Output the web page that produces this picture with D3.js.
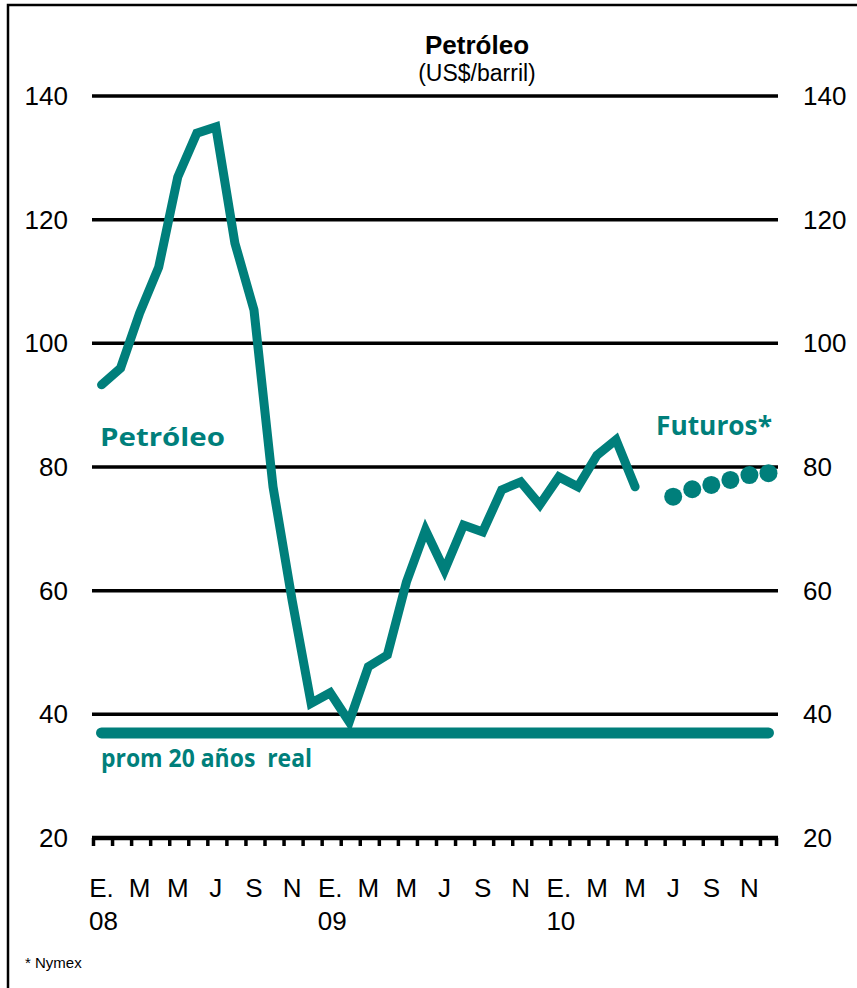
<!DOCTYPE html>
<html>
<head>
<meta charset="utf-8">
<script src="https://cdn.jsdelivr.net/npm/d3@7"></script>
<style>
  html, body { margin: 0; padding: 0; background: #fff; }
  svg { display: block; }
</style>
</head>
<body>
<svg id="chart" width="857" height="988"></svg>
<script>
// months on the category axis, Jan 2008 - Dec 2010
const months = [
  "2008-01","2008-02","2008-03","2008-04","2008-05","2008-06","2008-07","2008-08","2008-09","2008-10","2008-11","2008-12",
  "2009-01","2009-02","2009-03","2009-04","2009-05","2009-06","2009-07","2009-08","2009-09","2009-10","2009-11","2009-12",
  "2010-01","2010-02","2010-03","2010-04","2010-05","2010-06","2010-07","2010-08","2010-09","2010-10","2010-11","2010-12"
];

// monthly oil price, Jan 2008 - May 2010
const petroleo = [
  93.3, 96.0, 104.9, 112.3, 126.9, 134.0, 135.0, 116.2, 105.4, 76.8, 58.5, 41.8,
  43.5, 38.8, 47.7, 49.6, 61.4, 69.8, 63.3, 70.6, 69.5, 76.3, 77.6, 73.9,
  78.4, 76.8, 81.9, 84.4, 76.8
];

// Nymex futures, Jul - Dec 2010
const futurosMonths = ["2010-07","2010-08","2010-09","2010-10","2010-11","2010-12"];
const futuros = [75.2, 76.4, 77.1, 77.9, 78.7, 79.0];

// 20-year real average
const promedio = 37.0;

const yTicks = [20, 40, 60, 80, 100, 120, 140];
const monthLabels = ["E.", "M", "M", "J", "S", "N"];
const yearLabels = { "2008-01": "08", "2009-01": "09", "2010-01": "10" };

const teal = "#007f7b";
const svg = d3.select("#chart");

// frame
svg.append("rect")
  .attr("x", 8).attr("y", 5)
  .attr("width", 880).attr("height", 1000)
  .attr("fill", "none").attr("stroke", "#000").attr("stroke-width", 2.5);

const x = d3.scaleBand().domain(months).range([92, 778]).paddingInner(0).paddingOuter(0);
const cx = m => x(m) + x.bandwidth() / 2;
const y = d3.scaleLinear().domain([20, 140]).range([838, 96]);

// gridlines
svg.append("g")
  .selectAll("line")
  .data(yTicks.filter(d => d > 20))
  .enter().append("line")
  .attr("x1", 92).attr("x2", 778)
  .attr("y1", d => y(d)).attr("y2", d => y(d))
  .attr("stroke", "#000").attr("stroke-width", 3.5);

// left & right value labels
const labelFont = "'Liberation Sans', Arial, sans-serif";
svg.append("g")
  .selectAll("text")
  .data(yTicks)
  .enter().append("text")
  .attr("x", 68).attr("y", d => y(d) + 9)
  .attr("text-anchor", "end")
  .style("font-family", labelFont).style("font-size", "26px")
  .text(d => d);

svg.append("g")
  .selectAll("text")
  .data(yTicks)
  .enter().append("text")
  .attr("x", 803).attr("y", d => y(d) + 9)
  .style("font-family", labelFont).style("font-size", "26px")
  .text(d => d);

// bottom axis with monthly ticks between categories
const axis = svg.append("g");
axis.append("line")
  .attr("x1", 92).attr("x2", 778)
  .attr("y1", y(20)).attr("y2", y(20))
  .attr("stroke", "#000").attr("stroke-width", 4.5);

axis.selectAll(".tick")
  .data(months.concat(["end"]))
  .enter().append("line")
  .attr("class", "tick")
  .attr("x1", (d, i) => i < months.length ? x(d) + 1.5 : 776.5)
  .attr("x2", (d, i) => i < months.length ? x(d) + 1.5 : 776.5)
  .attr("y1", y(20)).attr("y2", y(20) + 8)
  .attr("stroke", "#000").attr("stroke-width", 3.5);

axis.selectAll(".mlabel")
  .data(months.filter((d, i) => i % 2 === 0))
  .enter().append("text")
  .attr("class", "mlabel")
  .attr("x", d => cx(d)).attr("y", 897)
  .attr("text-anchor", "middle")
  .style("font-family", labelFont).style("font-size", "26px")
  .text((d, i) => monthLabels[i % 6]);

axis.selectAll(".ylabel")
  .data(Object.keys(yearLabels))
  .enter().append("text")
  .attr("class", "ylabel")
  .attr("x", d => cx(d) + 2).attr("y", 930)
  .attr("text-anchor", "middle")
  .style("font-family", labelFont).style("font-size", "26px")
  .text(d => yearLabels[d]);

// 20-year average line
svg.append("line")
  .attr("x1", cx(months[0])).attr("x2", cx(months[months.length - 1]))
  .attr("y1", y(promedio)).attr("y2", y(promedio))
  .attr("stroke", teal).attr("stroke-width", 11).attr("stroke-linecap", "round");

// oil price line
const line = d3.line()
  .x((d, i) => cx(months[i]))
  .y(d => y(d));

svg.append("path")
  .datum(petroleo)
  .attr("d", line)
  .attr("fill", "none")
  .attr("stroke", teal).attr("stroke-width", 9)
  .attr("stroke-linejoin", "miter").attr("stroke-miterlimit", 3)
  .attr("stroke-linecap", "round");

// futures dots
svg.append("g")
  .selectAll("circle")
  .data(futuros)
  .enter().append("circle")
  .attr("cx", (d, i) => cx(futurosMonths[i]))
  .attr("cy", d => y(d))
  .attr("r", 9)
  .attr("fill", teal);

// titles
svg.append("text")
  .attr("x", 477).attr("y", 54)
  .attr("text-anchor", "middle")
  .style("font-family", labelFont).style("font-size", "26px").style("font-weight", "bold")
  .text("Petróleo");

svg.append("text")
  .attr("x", 477).attr("y", 81)
  .attr("text-anchor", "middle")
  .style("font-family", labelFont).style("font-size", "23px")
  .text("(US$/barril)");

// series labels
const seriesFont = "'Open Sans', 'Noto Sans', sans-serif";
svg.append("text")
  .attr("x", 100).attr("y", 446)
  .attr("textLength", 125).attr("lengthAdjust", "spacingAndGlyphs")
  .style("font-family", seriesFont).style("font-size", "25px").style("font-weight", "bold")
  .attr("fill", teal)
  .text("Petróleo");

svg.append("text")
  .attr("x", 656).attr("y", 435)
  .attr("textLength", 116).attr("lengthAdjust", "spacingAndGlyphs")
  .style("font-family", seriesFont).style("font-size", "27px").style("font-weight", "bold")
  .attr("fill", teal)
  .text("Futuros*");

svg.append("text")
  .attr("x", 101).attr("y", 767)
  .attr("textLength", 211).attr("lengthAdjust", "spacingAndGlyphs")
  .style("font-family", seriesFont).style("font-size", "25px").style("font-weight", "bold")
  .attr("fill", teal)
  .style("white-space", "pre")
  .text("prom 20 años  real");

// footnote
svg.append("text")
  .attr("x", 25).attr("y", 968)
  .style("font-family", labelFont).style("font-size", "15px")
  .text("* Nymex");
</script>
</body>
</html>
